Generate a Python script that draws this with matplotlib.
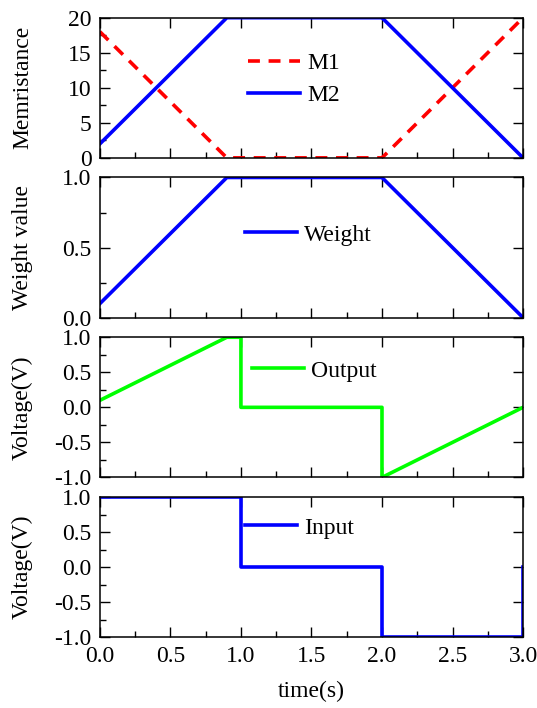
import matplotlib
matplotlib.use("Agg")
import matplotlib.pyplot as plt
from matplotlib.ticker import MultipleLocator, FormatStrFormatter

plt.rcParams['font.family'] = ['Liberation Serif', 'DejaVu Serif']
plt.rcParams['axes.unicode_minus'] = False
plt.rcParams['font.size'] = 17

# data
t_mem = [0.0, 0.9, 2.0, 3.0]
m1 = [18, 0, 0, 20]
m2 = [2, 20, 20, 0]

t_w = [0.0, 0.9, 2.0, 3.0]
weight = [0.1, 1.0, 1.0, 0.0]

t_out = [0.0, 0.9, 1.0, 1.0, 2.0, 2.0, 3.0]
output = [0.1, 1.0, 1.0, 0.0, 0.0, -1.0, 0.0]

t_in = [0.0, 1.0, 1.0, 2.0, 2.0, 3.0, 3.0]
inp = [1.0, 1.0, 0.0, 0.0, -1.0, -1.0, 0.0]

fig, axes = plt.subplots(4, 1, figsize=(5.37, 7.08), dpi=100, sharex=True)
fig.subplots_adjust(left=0.186, right=0.974, top=0.975, bottom=0.100, hspace=0.14)

ax1, ax2, ax3, ax4 = axes
lw = 2.6

ax1.plot(t_mem, m1, color='#ff0000', lw=lw, ls=(0, (3.3, 2.4)), label='M1')
ax1.plot(t_mem, m2, color='#0000ff', lw=lw, label='M2')
ax1.set_ylim(0, 20)
ax1.yaxis.set_major_locator(MultipleLocator(5))
ax1.yaxis.set_minor_locator(MultipleLocator(2.5))
ax1.yaxis.set_major_formatter(FormatStrFormatter('%d'))
ax1.set_ylabel('Memristance')

ax2.plot(t_w, weight, color='#0000ff', lw=lw, label='Weight')
ax2.set_ylim(0, 1)
ax2.yaxis.set_major_locator(MultipleLocator(0.5))
ax2.yaxis.set_minor_locator(MultipleLocator(0.25))
ax2.set_ylabel('Weight value')

ax3.plot(t_out, output, color='#00ff00', lw=lw, label='Output')
ax3.set_ylabel('Voltage(V)')

ax4.plot(t_in, inp, color='#0000ff', lw=lw, label='Input')
ax4.set_ylabel('Voltage(V)')
ax4.set_xlabel('time(s)', labelpad=10)

for ax in (ax2, ax3, ax4):
    ax.yaxis.set_major_formatter(FormatStrFormatter('%.1f'))
for ax in (ax3, ax4):
    ax.set_ylim(-1, 1)
    ax.yaxis.set_major_locator(MultipleLocator(0.5))
    ax.yaxis.set_minor_locator(MultipleLocator(0.25))

legend_pos = [(0.35, 0.56), (0.343, 0.59), (0.36, 0.76), (0.343, 0.78)]
for ax, pos in zip(axes, legend_pos):
    ax.set_xlim(0, 3)
    ax.xaxis.set_major_locator(MultipleLocator(0.5))
    ax.xaxis.set_minor_locator(MultipleLocator(0.25))
    ax.xaxis.set_major_formatter(FormatStrFormatter('%.1f'))
    ax.tick_params(which='both', direction='in', top=True, right=True,
                   width=1, pad=6)
    ax.tick_params(which='major', length=7)
    ax.tick_params(which='minor', length=4, top=False, right=False)
    for sp in ax.spines.values():
        sp.set_linewidth(1.1)
    ax.yaxis.set_label_coords(-0.158, 0.5)
    ax.legend(loc='center left', bbox_to_anchor=pos, frameon=False,
              borderpad=0, borderaxespad=0, handlelength=2.2,
              handletextpad=0.3, labelspacing=0.45, fontsize=17)

fig.savefig('out.png', dpi=100)
